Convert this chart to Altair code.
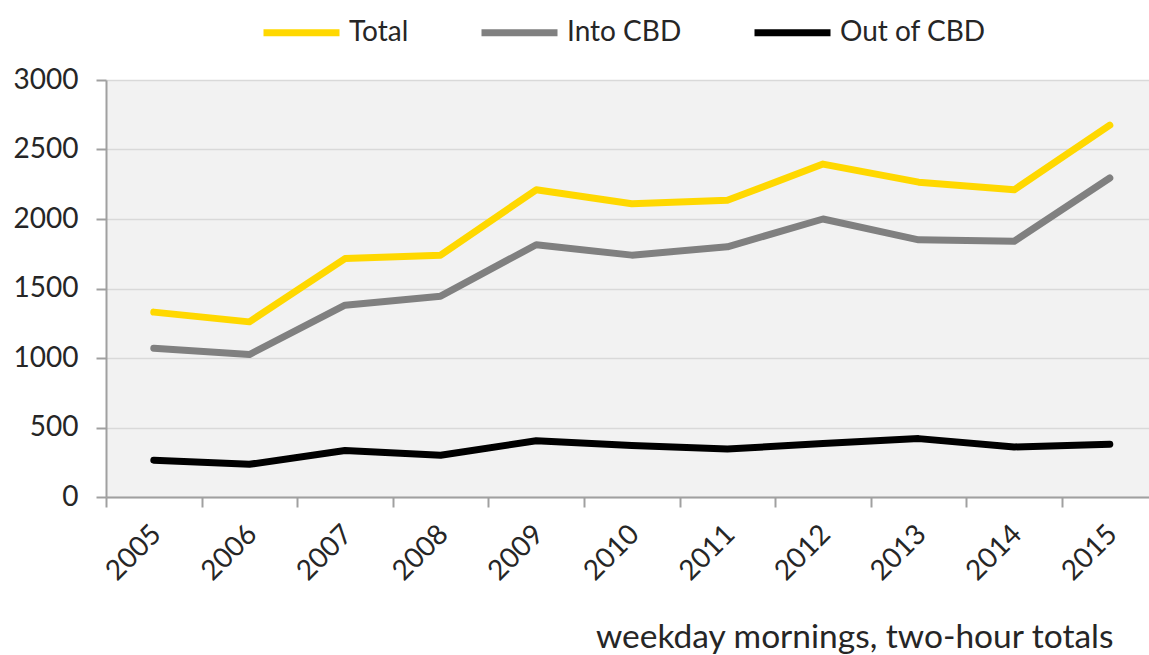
import altair as alt
import pandas as pd

# Two-hour weekday morning counts, by direction
years = [2005, 2006, 2007, 2008, 2009, 2010, 2011, 2012, 2013, 2014, 2015]
total = [1330, 1260, 1715, 1740, 2210, 2110, 2135, 2395, 2265, 2210, 2675]
into_cbd = [1070, 1025, 1380, 1445, 1815, 1740, 1800, 2000, 1850, 1840, 2295]
out_of_cbd = [265, 235, 335, 300, 405, 370, 345, 385, 420, 360, 380]

series_names = ["Total", "Into CBD", "Out of CBD"]
series_colors = ["#FFD800", "#808080", "#000000"]
y_ticks = [0, 500, 1000, 1500, 2000, 2500, 3000]

rows = []
for name, values in zip(series_names, [total, into_cbd, out_of_cbd]):
    for yr, v in zip(years, values):
        rows.append({"year": yr, "count": v, "series": name})
df = pd.DataFrame(rows)

FONT = "Lato"
TEXT = "#262626"
AXIS = "#a0a0a0"
PLOT_W = 1043
PLOT_H = 417
BAND = 95.6  # pixel width of one year

chart = (
    alt.Chart(df)
    .mark_line(strokeWidth=7, strokeCap="round", strokeJoin="round")
    .encode(
        x=alt.X(
            "year:Q",
            scale=alt.Scale(domain=[2004.5, 2004.5 + PLOT_W / BAND], nice=False, zero=False),
            axis=alt.Axis(
                values=years,
                format="d",
                labelAngle=-45,
                tickOffset=-BAND / 2,
                labelOffset=BAND / 2 - 7,
                labelFlush=False,
                labelOverlap=False,
                labelPadding=13,
                tickSize=10,
                grid=False,
                title="weekday mornings, two-hour totals",
                titleX=1007,
                titleY=150,
                titleAlign="right",
                titleAnchor="start",
                titleBaseline="alphabetic",
                titleFontWeight="normal",
                titleFontSize=33.5,
            ),
        ),
        y=alt.Y(
            "count:Q",
            scale=alt.Scale(domain=[0, 3000], nice=False),
            axis=alt.Axis(
                values=y_ticks,
                format="d",
                tickSize=10,
                labelPadding=18,
                grid=True,
                gridColor="#d9d9d9",
                gridWidth=1.5,
                title=None,
            ),
        ),
        color=alt.Color(
            "series:N",
            scale=alt.Scale(domain=series_names, range=series_colors),
            sort=series_names,
            legend=alt.Legend(
                title=None,
                orient="none",
                direction="horizontal",
                legendX=154,
                legendY=-89,
                symbolType="stroke",
                symbolSize=5776,
                symbolStrokeWidth=7,
                labelOffset=6,
                columnPadding=58,
                labelFontSize=28,
                labelFont=FONT,
                labelColor=TEXT,
            ),
        ),
        order=alt.Order("year:Q"),
    )
    .properties(
        width=PLOT_W,
        height=PLOT_H,
        background="white",
        autosize=alt.AutoSizeParams(type="none"),
        padding={"left": 106, "top": 80, "right": 0, "bottom": 158},
    )
    .configure_view(fill="#f2f2f2", stroke=None)
    .configure_axis(
        labelFont=FONT,
        labelFontSize=28,
        labelColor=TEXT,
        titleFont=FONT,
        titleFontSize=28,
        titleColor=TEXT,
        domainColor=AXIS,
        domainWidth=2,
        tickColor=AXIS,
        tickWidth=2,
    )
)

chart.save("out.html", embed_options={"renderer": "svg", "actions": False})
